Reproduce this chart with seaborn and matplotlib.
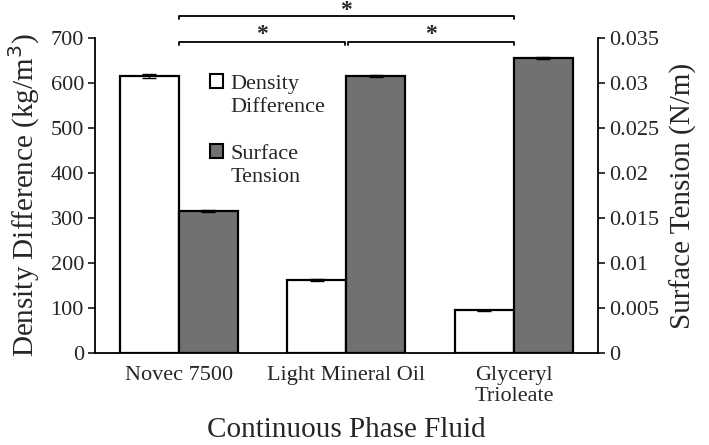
import pandas as pd
import numpy as np
import seaborn as sns
import matplotlib.pyplot as plt
from matplotlib.patches import Patch

fluids = ['Novec 7500', 'Light Mineral Oil', 'Glyceryl\nTrioleate']
density = [615, 162, 95]
density_err = [4, 1.5, 1]
tension = [0.0158, 0.0308, 0.03275]
tension_err = [0.0001, 0.0001, 0.0001]
measures = ['Density Difference', 'Surface Tension']

sns.set_style("white")
plt.rcParams['font.family'] = ['Liberation Serif', 'DejaVu Serif']

fig = plt.figure(figsize=(7.09, 4.45), dpi=100)
ax = fig.add_axes([0.134, 0.2067, 0.709, 0.708])
ax2 = ax.twinx()

df_d = pd.DataFrame({'fluid': fluids, 'value': density, 'measure': measures[0]})
df_t = pd.DataFrame({'fluid': fluids, 'value': tension, 'measure': measures[1]})
pal = {measures[0]: 'white', measures[1]: '#717171'}

sns.barplot(data=df_d, x='fluid', y='value', hue='measure', hue_order=measures,
            palette=pal, width=0.706, dodge=True, edgecolor='black', linewidth=1.6,
            legend=False, ax=ax, order=fluids)
sns.barplot(data=df_t, x='fluid', y='value', hue='measure', hue_order=measures,
            palette=pal, width=0.706, dodge=True, edgecolor='black', linewidth=1.6,
            legend=False, ax=ax2, order=fluids)

# error bars on top of bars
for a, err in [(ax, density_err), (ax2, tension_err)]:
    bars = sorted([p for p in a.patches if p.get_height() > 0], key=lambda p: p.get_x())
    xs = [p.get_x() + p.get_width() / 2 for p in bars]
    hs = [p.get_height() for p in bars]
    a.errorbar(xs, hs, yerr=err, fmt='none', ecolor='black', elinewidth=1, capsize=5, capthick=1)

ax.set_xlim(-0.5, 2.5)
ax.set_ylim(0, 700)
ax.set_yticks(range(0, 701, 100))
ax2.set_ylim(0, 0.035)
ax2.set_yticks([0, 0.005, 0.01, 0.015, 0.02, 0.025, 0.03, 0.035])
ax2.set_yticklabels(['0', '0.005', '0.01', '0.015', '0.02', '0.025', '0.03', '0.035'])

for a in (ax, ax2):
    for s in a.spines.values():
        s.set_visible(False)
        s.set_linewidth(1.3)
        s.set_color('black')
ax.spines['left'].set_visible(True)
ax.spines['bottom'].set_visible(True)
ax2.spines['right'].set_visible(True)

ax.tick_params(axis='y', direction='out', length=5, width=1.3, labelsize=16, left=True, pad=3)
ax.tick_params(axis='x', length=0, labelsize=16, pad=9)
ax2.tick_params(axis='y', direction='out', length=5, width=1.3, labelsize=16, right=True, pad=3)

ax.set_xlabel('Continuous Phase Fluid', fontsize=21, labelpad=8)
ax.set_ylabel('Density Difference (kg/m$^3$)', fontsize=21, labelpad=6)
ax2.set_ylabel('Surface Tension (N/m)', fontsize=21, labelpad=8)

# significance brackets
tr = ax.get_xaxis_transform()
def bracket(x0, x1, y, star_y):
    ax2.plot([x0, x0, x1, x1], [y - 0.011, y, y, y - 0.011], color='black', lw=1.3,
             transform=tr, clip_on=False)
    ax2.text((x0 + x1) / 2, star_y, '*', ha='center', va='center', fontsize=17,
             fontweight='bold', transform=tr)

bracket(0, 0.99, 0.988, 1.010)
bracket(1.01, 2, 0.988, 1.010)
bracket(0, 2, 1.07, 1.088)

blank = Patch(facecolor='none', edgecolor='none')
leg_kw = dict(loc='upper left', frameon=False, fontsize=16, borderpad=0,
              handlelength=0.6, handleheight=0.6, handletextpad=0.3,
              labelspacing=0.12, bbox_transform=fig.transFigure)
leg1 = ax2.legend([Patch(facecolor='white', edgecolor='black', lw=1.5), blank],
                  ['Density', 'Difference'], bbox_to_anchor=(199 / 709, 1 - 63 / 445), **leg_kw)
ax2.add_artist(leg1)
ax2.legend([Patch(facecolor='#717171', edgecolor='black', lw=1.5), blank],
           ['Surface', 'Tension'], bbox_to_anchor=(199 / 709, 1 - 133 / 445), **leg_kw)

fig.savefig('out.png', dpi=100)
